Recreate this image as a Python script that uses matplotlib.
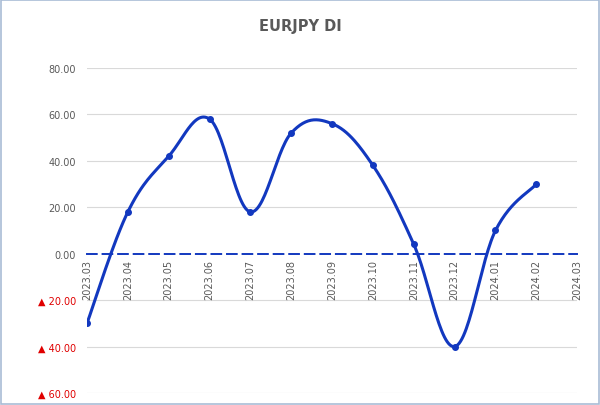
import numpy as np
import matplotlib.pyplot as plt
from matplotlib.patches import Rectangle

months = ["2023.03", "2023.04", "2023.05", "2023.06", "2023.07", "2023.08", "2023.09",
          "2023.10", "2023.11", "2023.12", "2024.01", "2024.02", "2024.03"]
di = [-30, 18, 42, 58, 18, 52, 56, 38, 4, -40, 10, 30]
yticks = [-60, -40, -20, 0, 20, 40, 60, 80]

line_col = "#1238bf"


def smooth(x, y, n=30):
    # Catmull-Rom style smoothing, like excel's smoothed line
    x = np.asarray(x, float)
    y = np.asarray(y, float)
    px = np.concatenate([[x[0]], x, [x[-1]]])
    py = np.concatenate([[y[0]], y, [y[-1]]])
    xs, ys = [], []
    t = np.linspace(0, 1, n)
    for i in range(1, len(px) - 2):
        p0, p1, p2, p3 = [np.array([px[j], py[j]]) for j in (i - 1, i, i + 1, i + 2)]
        c1 = p1 + (p2 - p0) / 5.5
        c2 = p2 - (p3 - p1) / 5.5
        b = ((1 - t) ** 3)[:, None] * p1 + (3 * (1 - t) ** 2 * t)[:, None] * c1 \
            + (3 * (1 - t) * t ** 2)[:, None] * c2 + (t ** 3)[:, None] * p2
        xs.extend(b[:, 0])
        ys.extend(b[:, 1])
    return np.array(xs), np.array(ys)


fig = plt.figure(figsize=(6, 4.06), dpi=100)
ax = fig.add_axes([0.145, 0.0296, 0.817, 0.8005])

xi = np.arange(len(di))
sx, sy = smooth(xi, di)
ax.plot(sx, sy, color=line_col, lw=2.2, zorder=3, solid_capstyle="round")
ax.plot(xi, di, "o", color=line_col, ms=4, zorder=4)

ax.set_xlim(0, len(months) - 1)
ax.set_ylim(-60, 80)
ax.set_yticks(yticks)
labels = []
for v in yticks:
    if v < 0:
        labels.append("▲ %.2f" % abs(v))
    else:
        labels.append("%.2f" % v)
ax.set_yticklabels(labels)

for v in yticks:
    if v != 0:
        ax.axhline(v, color="#d9d9d9", lw=0.8, zorder=1)

ax.set_xticks(np.arange(len(months)))
ax.set_xticklabels(months)
ax.tick_params(axis="y", length=0, pad=8, labelsize=7)
ax.tick_params(axis="x", length=0, pad=4, labelrotation=90, labelsize=7,
               labelcolor="#595959")
for lab, v in zip(ax.get_yticklabels(), yticks):
    lab.set_color("#e00000" if v < 0 else "#595959")

for s in ["top", "right", "left"]:
    ax.spines[s].set_visible(False)
ax.spines["bottom"].set_position(("data", 0))
ax.spines["bottom"].set_color(line_col)
ax.spines["bottom"].set_linestyle((0, (5, 3)))
ax.spines["bottom"].set_linewidth(1.4)

fig.text(0.5, 0.935, "EURJPY DI", ha="center", va="center", fontsize=10.5,
         fontweight="bold", color="#595959")

fig.patches.append(Rectangle((0.002, 0.003), 0.996, 0.994, transform=fig.transFigure,
                             fill=False, edgecolor="#a9bcd6", lw=1.2))

fig.savefig("out.png", dpi=100)
